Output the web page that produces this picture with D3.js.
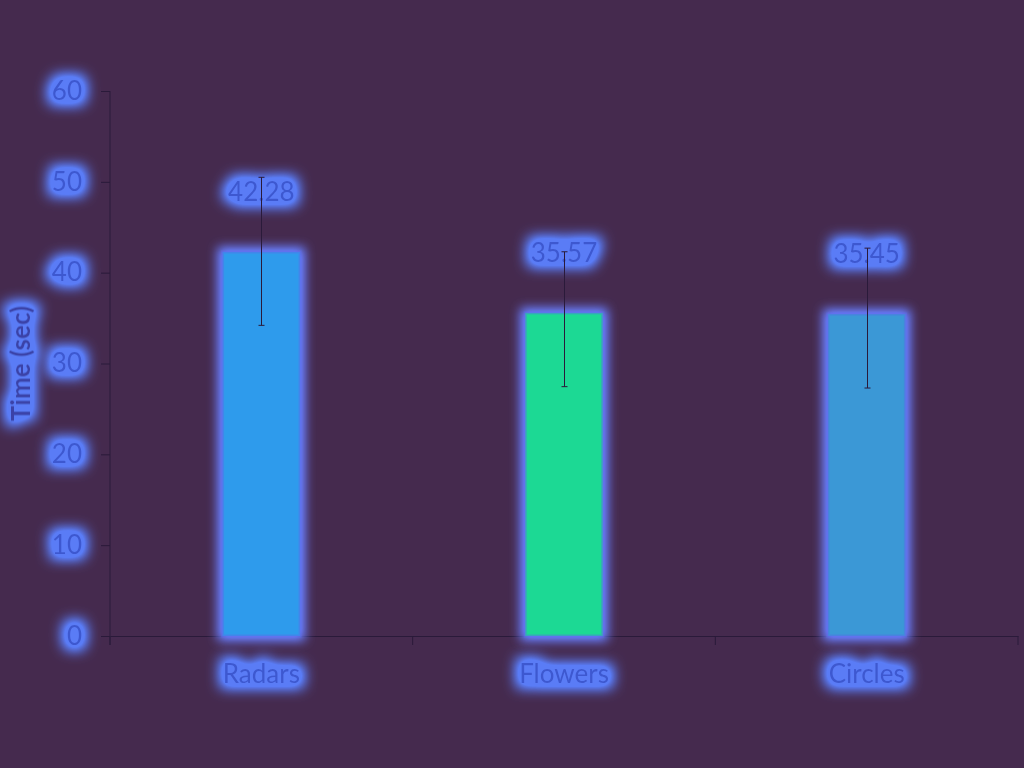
<!DOCTYPE html>
<html>
<head>
<meta charset="utf-8">
<script src="https://cdn.jsdelivr.net/npm/d3@7"></script>
<style>
  html, body { margin: 0; padding: 0; background: #452a4e; }
  svg { display: block; }
</style>
</head>
<body>
<svg id="chart" width="1024" height="768"></svg>
<script>
const categories = ["Radars", "Flowers", "Circles"];
const means = [42.28, 35.57, 35.45];
const errLow = [34.2, 27.45, 27.3];
const errHigh = [50.5, 42.3, 42.7];
const barColors = ["#2f9bec", "#1dd994", "#3a98d6"];
const yTicks = [0, 10, 20, 30, 40, 50, 60];
const yLabel = "Time (sec)";

const W = 1024, H = 768;
const margin = { top: 91, right: 6, bottom: 132, left: 110 };
const svg = d3.select("#chart");
svg.append("rect").attr("width", W).attr("height", H).attr("fill", "#452a4e");

const defs = svg.append("defs");
function glow(id, dilate, std, slope, color) {
  const f = defs.append("filter").attr("id", id)
    .attr("filterUnits", "userSpaceOnUse")
    .attr("x", -2000).attr("y", -2000).attr("width", 5000).attr("height", 5000);
  f.append("feMorphology").attr("in", "SourceAlpha").attr("operator", "dilate")
    .attr("radius", dilate).attr("result", "d");
  f.append("feGaussianBlur").attr("in", "d").attr("stdDeviation", std).attr("result", "b");
  const ct = f.append("feComponentTransfer").attr("in", "b").attr("result", "b2");
  ct.append("feFuncA").attr("type", "linear").attr("slope", slope);
  f.append("feFlood").attr("flood-color", color).attr("result", "c");
  f.append("feComposite").attr("in", "c").attr("in2", "b2").attr("operator", "in").attr("result", "g");
  const m = f.append("feMerge");
  m.append("feMergeNode").attr("in", "g");
  m.append("feMergeNode").attr("in", "SourceGraphic");
}
glow("glowText", 5, 7, 1.7, "#5a7cf6");
glow("glowBar", 4, 5.5, 1.3, "#6678f2");

const x = d3.scaleBand().domain(categories).range([margin.left, W - margin.right]).padding(0);
const y = d3.scaleLinear().domain([0, 60]).range([H - margin.bottom, margin.top]);
const barW = x.bandwidth() * 0.256;

const font = "Lato, 'Open Sans', sans-serif";
const textFill = "#3d58d0";
const axisColor = "#2a1a3a";

// Y axis
const yAxis = svg.append("g").attr("transform", `translate(${margin.left},0)`)
  .call(d3.axisLeft(y).tickValues(yTicks).tickSize(9).tickPadding(19));
yAxis.select(".domain").remove();
yAxis.selectAll(".tick line").attr("stroke", axisColor);
yAxis.selectAll(".tick text").attr("fill", textFill).attr("font-family", font)
  .attr("font-size", 26).attr("filter", "url(#glowText)");
yAxis.append("line").attr("x1", 0).attr("x2", 0)
  .attr("y1", y(60)).attr("y2", y(0) + 9).attr("stroke", axisColor);

// X axis
const xAxis = svg.append("g").attr("transform", `translate(0,${y(0)})`)
  .call(d3.axisBottom(x).tickSize(0).tickPadding(29));
xAxis.select(".domain").attr("stroke", axisColor);
xAxis.selectAll(".tick text").attr("fill", textFill).attr("font-family", font)
  .attr("font-size", 26).attr("filter", "url(#glowText)");
const bounds = categories.map(c => x(c) + x.bandwidth()).concat([x(categories[0])]);
xAxis.selectAll(".bt").data(bounds).enter().append("line")
  .attr("x1", d => d).attr("x2", d => d).attr("y1", 0).attr("y2", 9).attr("stroke", axisColor);

// Y title
svg.append("text")
  .attr("transform", `translate(30,${(y(0) + y(60)) / 2}) rotate(-90)`)
  .attr("text-anchor", "middle")
  .attr("font-family", font).attr("font-size", 26).attr("font-weight", 700)
  .attr("fill", "#3a42a8").attr("filter", "url(#glowText)")
  .text(yLabel);

// Bars
const data = categories.map((c, i) => ({ c, m: means[i], lo: errLow[i], hi: errHigh[i], col: barColors[i] }));
svg.append("g").selectAll("rect").data(data).enter().append("rect")
  .attr("x", d => x(d.c) + x.bandwidth() / 2 - barW / 2)
  .attr("width", barW)
  .attr("y", d => y(d.m))
  .attr("height", d => y(0) - y(d.m))
  .attr("fill", d => d.col)
  .attr("stroke", "#5a6ae8").attr("stroke-opacity", 0.45).attr("stroke-width", 3)
  .attr("filter", "url(#glowBar)");

// Value labels
svg.append("g").selectAll("text").data(data).enter().append("text")
  .attr("x", d => x(d.c) + x.bandwidth() / 2)
  .attr("y", d => y(d.m) - 60)
  .attr("dy", "0.35em")
  .attr("text-anchor", "middle")
  .attr("font-family", font).attr("font-size", 26)
  .attr("fill", textFill).attr("filter", "url(#glowText)")
  .text(d => d.m.toFixed(2));

// Error bars
const eg = svg.append("g").attr("stroke", axisColor).attr("stroke-width", 1);
data.forEach(d => {
  const cx = Math.round(x(d.c) + x.bandwidth() / 2) + 0.5;
  eg.append("line").attr("x1", cx).attr("x2", cx).attr("y1", y(d.hi)).attr("y2", y(d.lo));
  eg.append("line").attr("x1", cx - 3).attr("x2", cx + 3).attr("y1", y(d.hi)).attr("y2", y(d.hi));
  eg.append("line").attr("x1", cx - 3).attr("x2", cx + 3).attr("y1", y(d.lo)).attr("y2", y(d.lo));
});
</script>
</body>
</html>
